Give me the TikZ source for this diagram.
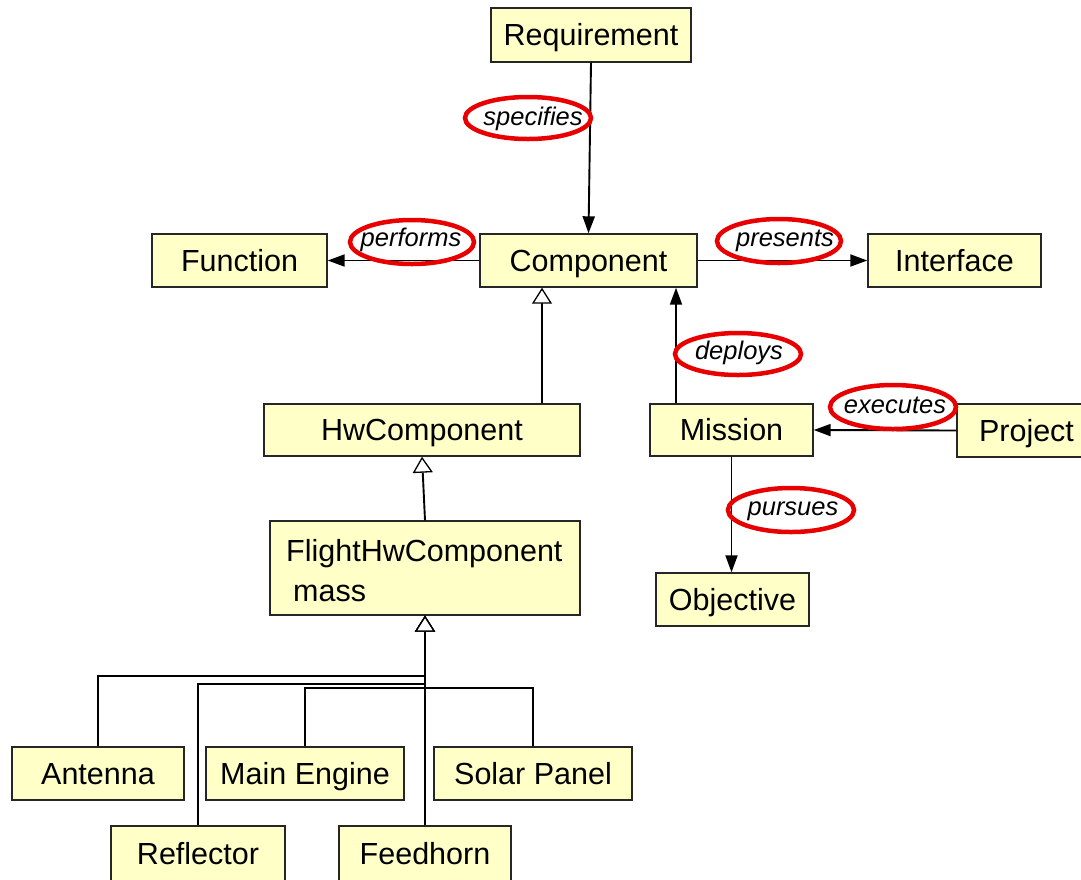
\documentclass[tikz,border=0pt]{standalone}
\usepackage{fontspec}
\setmainfont{Liberation Sans}
\usetikzlibrary{arrows.meta}
\definecolor{boxfill}{RGB}{255,255,200}
\definecolor{markred}{RGB}{232,0,0}
\begin{document}
\begin{tikzpicture}[x=1pt,y=-1pt,
  cls/.style={draw=black!85, line width=1.4pt, fill=boxfill, rectangle, inner sep=0pt,
    text height=21.5pt, text depth=0pt, font=\fontsize{30.5}{36}\selectfont},
  plain/.style={inner sep=0pt, text height=21.5pt, text depth=0pt, font=\fontsize{30.5}{36}\selectfont},
  assoc/.style={line width=1.9pt, -{Triangle[length=17pt,width=12pt]}},
  gen/.style={line width=1.9pt, -{Triangle[length=16pt,width=20pt,fill=white,line width=1.3pt]}},
  role/.style={inner sep=0pt, text height=17pt, text depth=0pt, font=\fontsize{25.5}{30}\selectfont\itshape},
  ring/.style={draw=markred, line width=4.5pt}
]
\useasboundingbox (0,0) rectangle (1081,879);
\clip (0,0) rectangle (1081,879);
\fill[white] (0,0) rectangle (1081,879);

% classes
\node[cls, minimum width=200pt, minimum height=54pt] (req)  at (591,35)    {Requirement};
\node[cls, minimum width=175pt, minimum height=53pt] (func) at (239.5,260.5) {Function};
\node[cls, minimum width=217pt, minimum height=53pt] (comp) at (588.5,260.5) {Component};
\node[cls, minimum width=173pt, minimum height=53pt] (intf) at (954.5,260.5) {Interface};
\node[cls, minimum width=316pt, minimum height=52pt] (hw)   at (422,430)   {HwComponent};
\node[cls, minimum width=163pt, minimum height=52pt] (mis)  at (731.5,430)  {Mission};
\node[cls, minimum width=139pt, minimum height=53pt] (proj) at (1026.5,430.5) {Project};
\node[cls, minimum width=310pt, minimum height=94pt] (fhw)  at (425,568)   {};
\node[plain, anchor=west] (fhwname) at (286,551) {FlightHwComponent};
\node[plain, anchor=west] (fhwattr) at (293,591) {mass};
\node[cls, minimum width=153pt, minimum height=53pt] (obj)  at (732.5,599.5) {Objective};
\node[cls, minimum width=172pt, minimum height=53pt] (ant)  at (98,773.5)  {Antenna};
\node[cls, minimum width=198pt, minimum height=53pt] (eng)  at (305,773.5) {Main Engine};
\node[cls, minimum width=198pt, minimum height=53pt] (sol)  at (533,773.5) {Solar Panel};
\node[cls, minimum width=174pt, minimum height=58pt] (refl) at (198,855)   {};
\node[plain] (refltext) at (198,854) {Reflector};
\node[cls, minimum width=172pt, minimum height=58pt] (feed) at (425,855)   {};
\node[plain] (feedtext) at (425,854) {Feedhorn};

% associations
\draw[assoc] (req.south) -- (comp.north);
\draw[assoc] (comp.west) -- (func.east);
\draw[assoc] (comp.east) -- (intf.west);
\draw[assoc] ([xshift=-55.5pt]mis.north) -- ([xshift=-55.5pt]mis.north |- comp.south);
\draw[assoc] (proj.west) -- (mis.east);
\draw[assoc] (mis.south) -- (mis.south |- obj.north);

% generalizations
\draw[gen] ([xshift=120pt]hw.north) -- ([xshift=120pt]hw.north |- comp.south);
\draw[gen] (fhw.north) -- (hw.south);
\draw[gen] (ant.north) -- ++(0,-70) -| (fhw.south);
\draw[gen] (refl.north) -- ++(0,-141) -| (fhw.south);
\draw[gen] (eng.north) -- ++(0,-58) -| (fhw.south);
\draw[gen] (sol.north) -- ++(0,-58) -| (fhw.south);
\draw[gen] (feed.north) -- (fhw.south);

% role names, each ringed in red
\node[role] (specifies) at (533,117) {specifies};
\node[role] (performs)  at (411,238) {performs};
\node[role] (presents)  at (785,238) {presents};
\node[role] (deploys)   at (739,351) {deploys};
\node[role] (executes)  at (895,405) {executes};
\node[role] (pursues)   at (793,507) {pursues};
\draw[ring] (528,118) ellipse [x radius=63, y radius=21];
\draw[ring] (412,242) ellipse [x radius=62, y radius=22];
\draw[ring] (779,241) ellipse [x radius=62, y radius=22];
\draw[ring] (738,354) ellipse [x radius=63, y radius=21];
\draw[ring] (893,407) ellipse [x radius=63, y radius=22];
\draw[ring] (791,510) ellipse [x radius=63, y radius=22];
\end{tikzpicture}
\end{document}
